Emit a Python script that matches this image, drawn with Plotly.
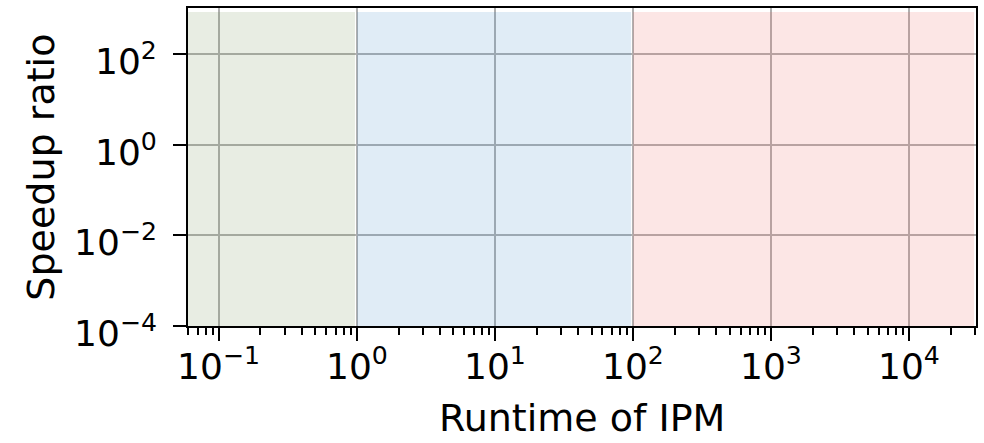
import plotly.graph_objects as go

# Data / configuration
region_names = ["fast", "medium", "slow"]
region_x0 = [0.0597, 1.0, 100.0]
region_x1 = [0.967, 96.7, 29500.0]
region_y0 = [1e-4, 1e-4, 1e-4]
region_y1 = [830.0, 830.0, 830.0]
region_colors = ["rgba(102,135,68,0.15)", "rgba(48,128,195,0.15)", "rgba(235,88,82,0.15)"]

x_tick_exps = [-1, 0, 1, 2, 3, 4]
y_tick_exps = [-4, -2, 0, 2]
x_title = "Runtime of IPM"
y_title = "Speedup ratio"

x_range_log = [-1.224, 4.484]
y_range_log = [-4.0, 3.01]

FONT = "DejaVu Sans"
TICK_SIZE = 36
TITLE_SIZE = 38


def pow_label(e):
    s = str(e).replace("-", "\u2212")
    return f"10<sup>{s}</sup>"


fig = go.Figure()
fig.add_trace(go.Scatter(x=[0.1, 10000], y=[1e-4, 100], mode="markers",
                         marker=dict(opacity=0), showlegend=False, hoverinfo="skip"))

for x0, x1, y0, y1, c in zip(region_x0, region_x1, region_y0, region_y1, region_colors):
    fig.add_shape(type="rect", xref="x", yref="y", x0=x0, x1=x1, y0=y0, y1=y1,
                  fillcolor=c, line=dict(width=0), layer="above")

annotations = []
for e in x_tick_exps:
    annotations.append(dict(x=e, xref="x", y=0, yref="paper", xanchor="center", yanchor="top",
                            yshift=-14, text=pow_label(e), showarrow=False, borderpad=0,
                            font=dict(family=FONT, size=TICK_SIZE, color="black")))
for e in y_tick_exps:
    annotations.append(dict(x=0, xref="paper", y=e, yref="y", xanchor="right", yanchor="middle",
                            xshift=-30, yshift=-5, text=pow_label(e), showarrow=False, borderpad=0,
                            font=dict(family=FONT, size=TICK_SIZE, color="black")))
annotations.append(dict(x=0.5, xref="paper", y=-0.288, yref="paper", xanchor="center", yanchor="middle",
                        text=x_title, showarrow=False, borderpad=0,
                        font=dict(family=FONT, size=TITLE_SIZE, color="black")))
annotations.append(dict(x=-0.187, xref="paper", y=0.5, yref="paper", xanchor="center", yanchor="middle",
                        text=y_title, textangle=-90, showarrow=False, borderpad=0,
                        font=dict(family=FONT, size=TITLE_SIZE, color="black")))

fig.update_layout(
    width=984, height=443,
    margin=dict(l=188, r=6, t=7, b=117),
    paper_bgcolor="white", plot_bgcolor="white",
    font=dict(family=FONT, size=TICK_SIZE, color="black"),
    showlegend=False,
    annotations=annotations,
)

fig.update_xaxes(
    type="log", range=x_range_log, tickvals=[10.0 ** e for e in x_tick_exps],
    showticklabels=False,
    showline=True, linecolor="black", linewidth=2, mirror=True,
    ticks="outside", ticklen=13, tickwidth=2, tickcolor="black",
    showgrid=True, gridcolor="#b0b0b0", gridwidth=2,
    minor=dict(ticks="outside", ticklen=7, tickwidth=1.5, tickcolor="black", dtick="D1", showgrid=False),
    zeroline=False,
)
fig.update_yaxes(
    type="log", range=y_range_log, tickvals=[10.0 ** e for e in y_tick_exps],
    showticklabels=False,
    showline=True, linecolor="black", linewidth=2, mirror=True,
    ticks="outside", ticklen=13, tickwidth=2, tickcolor="black",
    showgrid=True, gridcolor="#b0b0b0", gridwidth=2,
    zeroline=False,
)

fig.write_html("out.html")
